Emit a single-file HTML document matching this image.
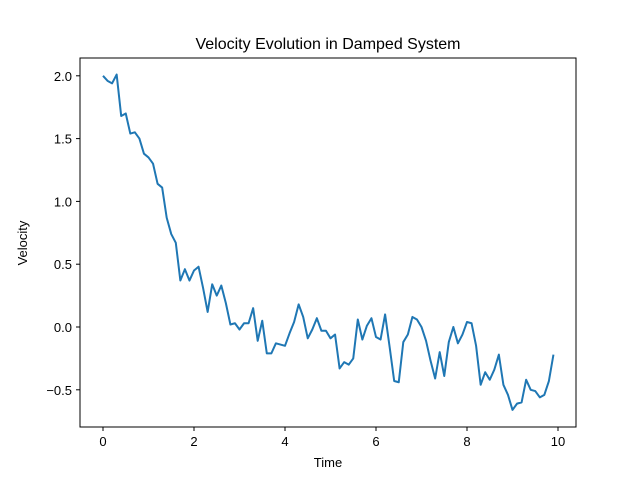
<!DOCTYPE html>
<html><head><meta charset="utf-8"><style>
body{margin:0;background:#fff}
svg text{font-family:"Liberation Sans","DejaVu Sans",sans-serif;fill:#000}
</style></head><body>
<svg id="chart" width="640" height="480">
<rect width="640" height="480" fill="#fff"/>
<text x="328" y="49" font-size="16" text-anchor="middle">Velocity Evolution in Damped System</text>
<g id="ticks"></g>
<path id="line" fill="none" stroke="#1f77b4" stroke-width="2" stroke-linejoin="round"/>
<rect x="80" y="58" width="496" height="369" fill="none" stroke="#000" stroke-width="1"/>
<text x="328" y="467" font-size="13" text-anchor="middle">Time</text>
<text transform="translate(27,243) rotate(-90)" font-size="13" text-anchor="middle">Velocity</text>
</svg>
<script>
const velocity=[2.00,1.96,1.94,2.01,1.68,1.70,1.54,1.55,1.50,1.38,1.35,1.30,1.14,1.11,0.87,0.74,0.67,0.37,0.46,0.37,0.45,0.48,0.31,0.12,0.34,0.25,0.33,0.19,0.02,0.03,-0.02,0.03,0.03,0.15,-0.11,0.05,-0.21,-0.21,-0.13,-0.14,-0.15,-0.05,0.04,0.18,0.08,-0.09,-0.02,0.07,-0.03,-0.03,-0.09,-0.06,-0.33,-0.28,-0.30,-0.25,0.06,-0.10,0.01,0.07,-0.08,-0.10,0.10,-0.16,-0.43,-0.44,-0.12,-0.06,0.08,0.06,0.00,-0.11,-0.27,-0.41,-0.20,-0.39,-0.12,0.00,-0.13,-0.06,0.04,0.03,-0.15,-0.46,-0.36,-0.42,-0.34,-0.22,-0.46,-0.54,-0.66,-0.61,-0.60,-0.42,-0.50,-0.51,-0.56,-0.54,-0.43,-0.22];
const xTicks=[0,2,4,6,8,10];
const yTicks=[-0.5,0.0,0.5,1.0,1.5,2.0];
const xs=v=>103+v*45.5;
const ys=v=>327-v*125.6;
const ns='http://www.w3.org/2000/svg';
const g=document.getElementById('ticks');
let d='';
velocity.forEach((v,i)=>{const t=i*0.1;d+=(i?'L':'M')+xs(t).toFixed(2)+' '+ys(v).toFixed(2);});
document.getElementById('line').setAttribute('d',d);
xTicks.forEach(t=>{
 const l=document.createElementNS(ns,'line');
 l.setAttribute('x1',xs(t));l.setAttribute('x2',xs(t));l.setAttribute('y1',427);l.setAttribute('y2',431);l.setAttribute('stroke','#000');
 
 
 g.appendChild(l);
 const tx=document.createElementNS(ns,'text');
 tx.setAttribute('x',xs(t));tx.setAttribute('y',446);tx.setAttribute('font-size','13');tx.setAttribute('text-anchor','middle');
 tx.textContent=t;
 
 
 g.appendChild(tx);
});
yTicks.forEach(t=>{
 const l=document.createElementNS(ns,'line');
 l.setAttribute('x1',76);l.setAttribute('x2',80);l.setAttribute('y1',ys(t));l.setAttribute('y2',ys(t));l.setAttribute('stroke','#000');
 
 
 g.appendChild(l);
 const tx=document.createElementNS(ns,'text');
 tx.setAttribute('x',72);tx.setAttribute('y',ys(t)+5);tx.setAttribute('font-size','13');tx.setAttribute('text-anchor','end');
 tx.textContent=t.toFixed(1).replace('-','\u2212');
 
 
 g.appendChild(tx);
});
</script>
</body></html>
